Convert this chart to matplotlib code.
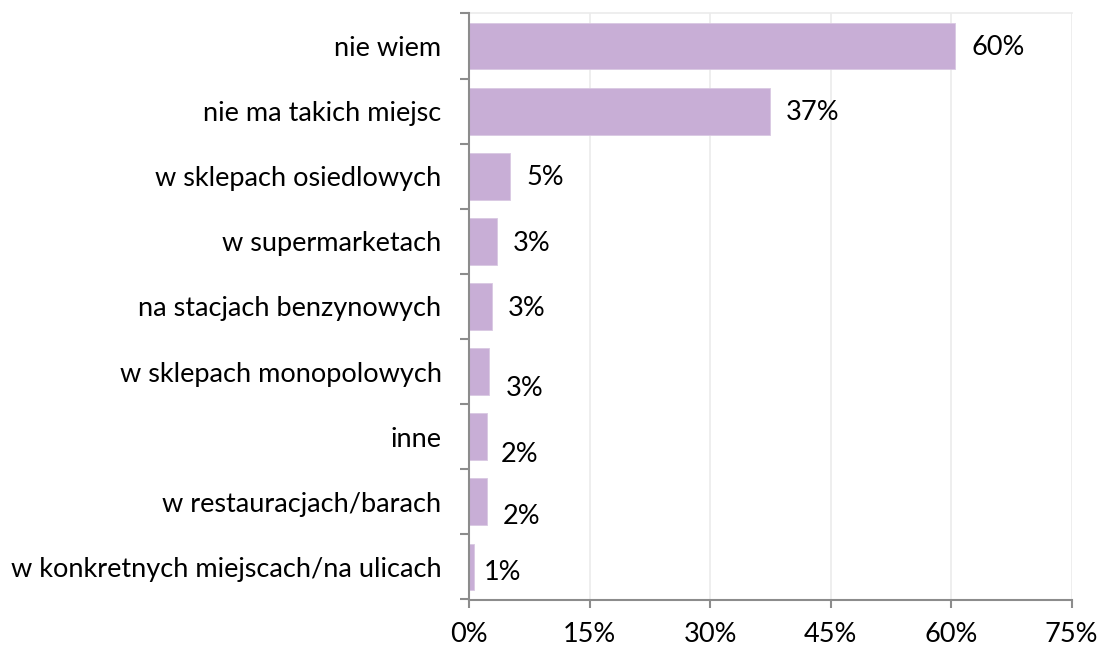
import matplotlib
matplotlib.use("Agg")
import matplotlib.pyplot as plt
import numpy as np

categories = [
    "nie wiem",
    "nie ma takich miejsc",
    "w sklepach osiedlowych",
    "w supermarketach",
    "na stacjach benzynowych",
    "w sklepach monopolowych",
    "inne",
    "w restauracjach/barach",
    "w konkretnych miejscach/na ulicach",
]
values = [60.5, 37.4, 5.1, 3.4, 2.8, 2.5, 2.2, 2.2, 0.6]
value_labels = ["60%", "37%", "5%", "3%", "3%", "3%", "2%", "2%", "1%"]
x_ticks = [0, 15, 30, 45, 60, 75]
x_tick_labels = ["0%", "15%", "30%", "45%", "60%", "75%"]

# label placement tweaks (pixels: right, down)
label_dx = [16, 16, 16, 16, 16, 16, 14, 16, 10]
label_dy = [1, 1.5, 1.5, 2, 2, 17, 18, 15, 6]

plt.rcParams['font.family'] = ['Lato', 'DejaVu Sans']
FS = 19.5

fig = plt.figure(figsize=(11, 6.46), dpi=100)
ax = fig.add_axes([469.3 / 1100, 1 - 599.5 / 646, (1071.7 - 469.3) / 1100, (599.5 - 13.5) / 646])

n = len(categories)
y = np.arange(n)
bar_color = "#C8AED6"
ax.barh(y, values, height=0.72, color=bar_color, edgecolor="#D9C8E2", linewidth=0.6, zorder=3)

ax.set_ylim(n - 0.5, -0.5)
ax.set_xlim(0, 75)

ax.set_yticks(y)
ax.set_yticklabels(categories, fontsize=FS, color="#000000")
ax.set_yticks(np.arange(n + 1) - 0.5, minor=True)
ax.tick_params(axis="y", which="major", length=0, pad=20)
ax.tick_params(axis="y", which="minor", length=6.5, width=1.5, color="#8C8C8C", direction="out")

ax.set_xticks(x_ticks)
ax.set_xticklabels(x_tick_labels, fontsize=FS, color="#000000")
ax.tick_params(axis="x", which="major", length=6, width=1.5, color="#8C8C8C", direction="out", pad=10.5)

ax.grid(axis="x", color="#EBEBEB", linewidth=1.2, zorder=0)
for s in ["left", "bottom"]:
    ax.spines[s].set_color("#8C8C8C")
    ax.spines[s].set_linewidth(1.5)
    ax.spines[s].set_zorder(4)
ax.spines["top"].set_color("#EBEBEB")
ax.spines["top"].set_linewidth(1.2)
ax.spines["right"].set_visible(False)

for i, (v, lab) in enumerate(zip(values, value_labels)):
    ax.annotate(lab, xy=(v, i), xytext=(label_dx[i] * 0.72, -label_dy[i] * 0.72),
                textcoords="offset points", ha="left", va="center", fontsize=FS, color="#000000")

fig.savefig("out.png", dpi=100)
